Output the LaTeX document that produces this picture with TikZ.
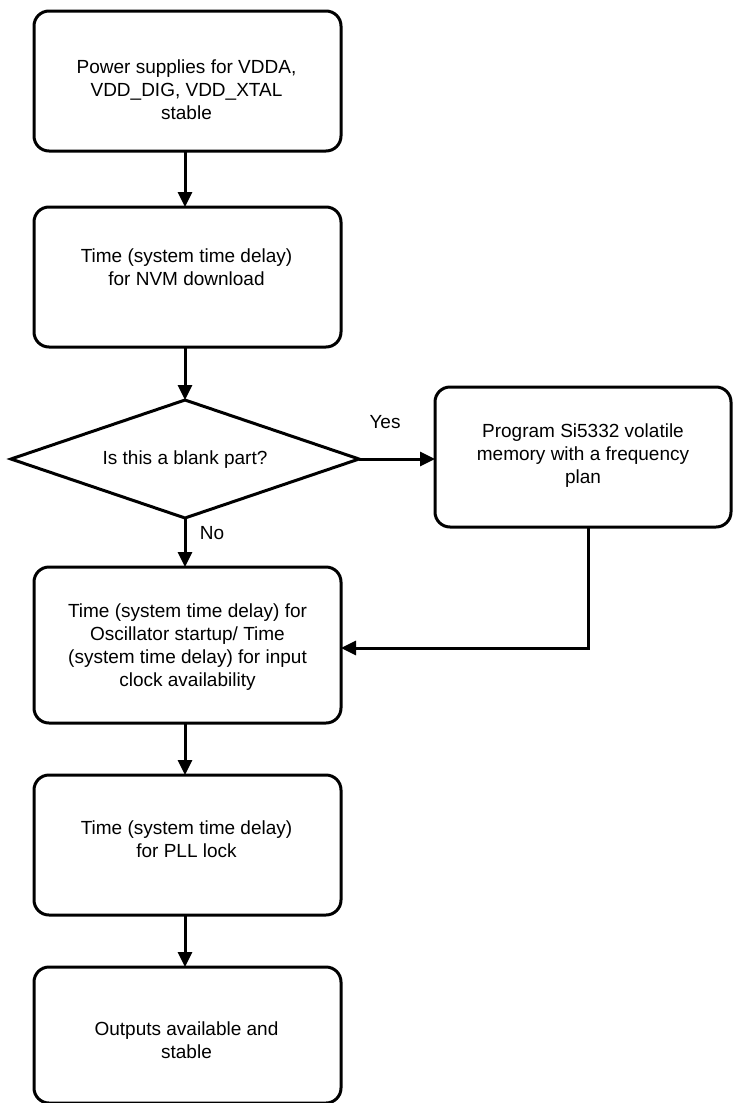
\documentclass[tikz,border=0pt]{standalone}
\usepackage{fontspec}
\setmainfont{Liberation Sans}
\usetikzlibrary{arrows.meta,shapes.geometric,calc}

\begin{document}
\begin{tikzpicture}[x=1pt,y=-1pt,
  every node/.style={inner sep=0pt,outer sep=0pt},
  box/.style={draw,line width=3pt,rounded corners=15pt,minimum width=307pt},
  decision/.style={draw,line width=3pt,diamond,minimum width=348pt,minimum height=118pt},
  txt/.style={align=center,font=\fontsize{19}{23}\selectfont},
  flow/.style={line width=3pt,-{Triangle[length=15pt,width=14pt]}},
  lbl/.style={font=\fontsize{19}{23}\selectfont}]
\useasboundingbox (0,0) rectangle (732,1103);
\fill[white] (0,0) rectangle (732,1103);

% process boxes and the decision
\node[box,minimum height=140pt] (b1) at (187.5,81) {};
\node[box,minimum height=140pt] (b2) at (187.5,277) {};
\node[decision] (d) at (185,459) {};
\node[box,minimum width=296pt,minimum height=140pt] (r) at (583,457) {};
\node[box,minimum height=156pt] (b3) at (187.5,645) {};
\node[box,minimum height=140pt] (b4) at (187.5,845) {};
\node[box,minimum height=136pt] (b5) at (187.5,1035) {};

% texts
\node[txt] (t1) at (186.5,90) {Power supplies for VDDA,\\VDD\_DIG, VDD\_XTAL\\stable};
\node[txt] (t2) at (186.5,267) {Time (system time delay)\\for NVM download};
\node[txt] (td) at (185,460) {Is this a blank part?};
\node[txt] (tr) at (583,456) {Program Si5332 volatile\\memory with a frequency\\plan};
\node[txt] (t3) at (187.5,647) {Time (system time delay) for\\Oscillator startup/ Time\\(system time delay) for input\\clock availability};
\node[txt] (t4) at (186.5,839) {Time (system time delay)\\for PLL lock};
\node[txt] (t5) at (186.5,1040) {Outputs available and\\stable};

% branch labels
\node[lbl] (yes) at (385,422) {Yes};
\node[lbl] (no) at (212,533) {No};

% connectors
\coordinate (j) at (588,648);
\draw[flow] (b1.south -| d.north) -- (b2.north -| d.north);
\draw[flow] (b2.south -| d.north) -- (d.north);
\draw[flow] (d.east) -- (r.west |- d.east);
\draw[flow] (d.south) -- (b3.north -| d.south);
\draw[flow] (r.south -| j) -- (j) -- (j -| b3.east);
\draw[flow] (b3.south -| d.north) -- (b4.north -| d.north);
\draw[flow] (b4.south -| d.north) -- (b5.north -| d.north);
\end{tikzpicture}
\end{document}
